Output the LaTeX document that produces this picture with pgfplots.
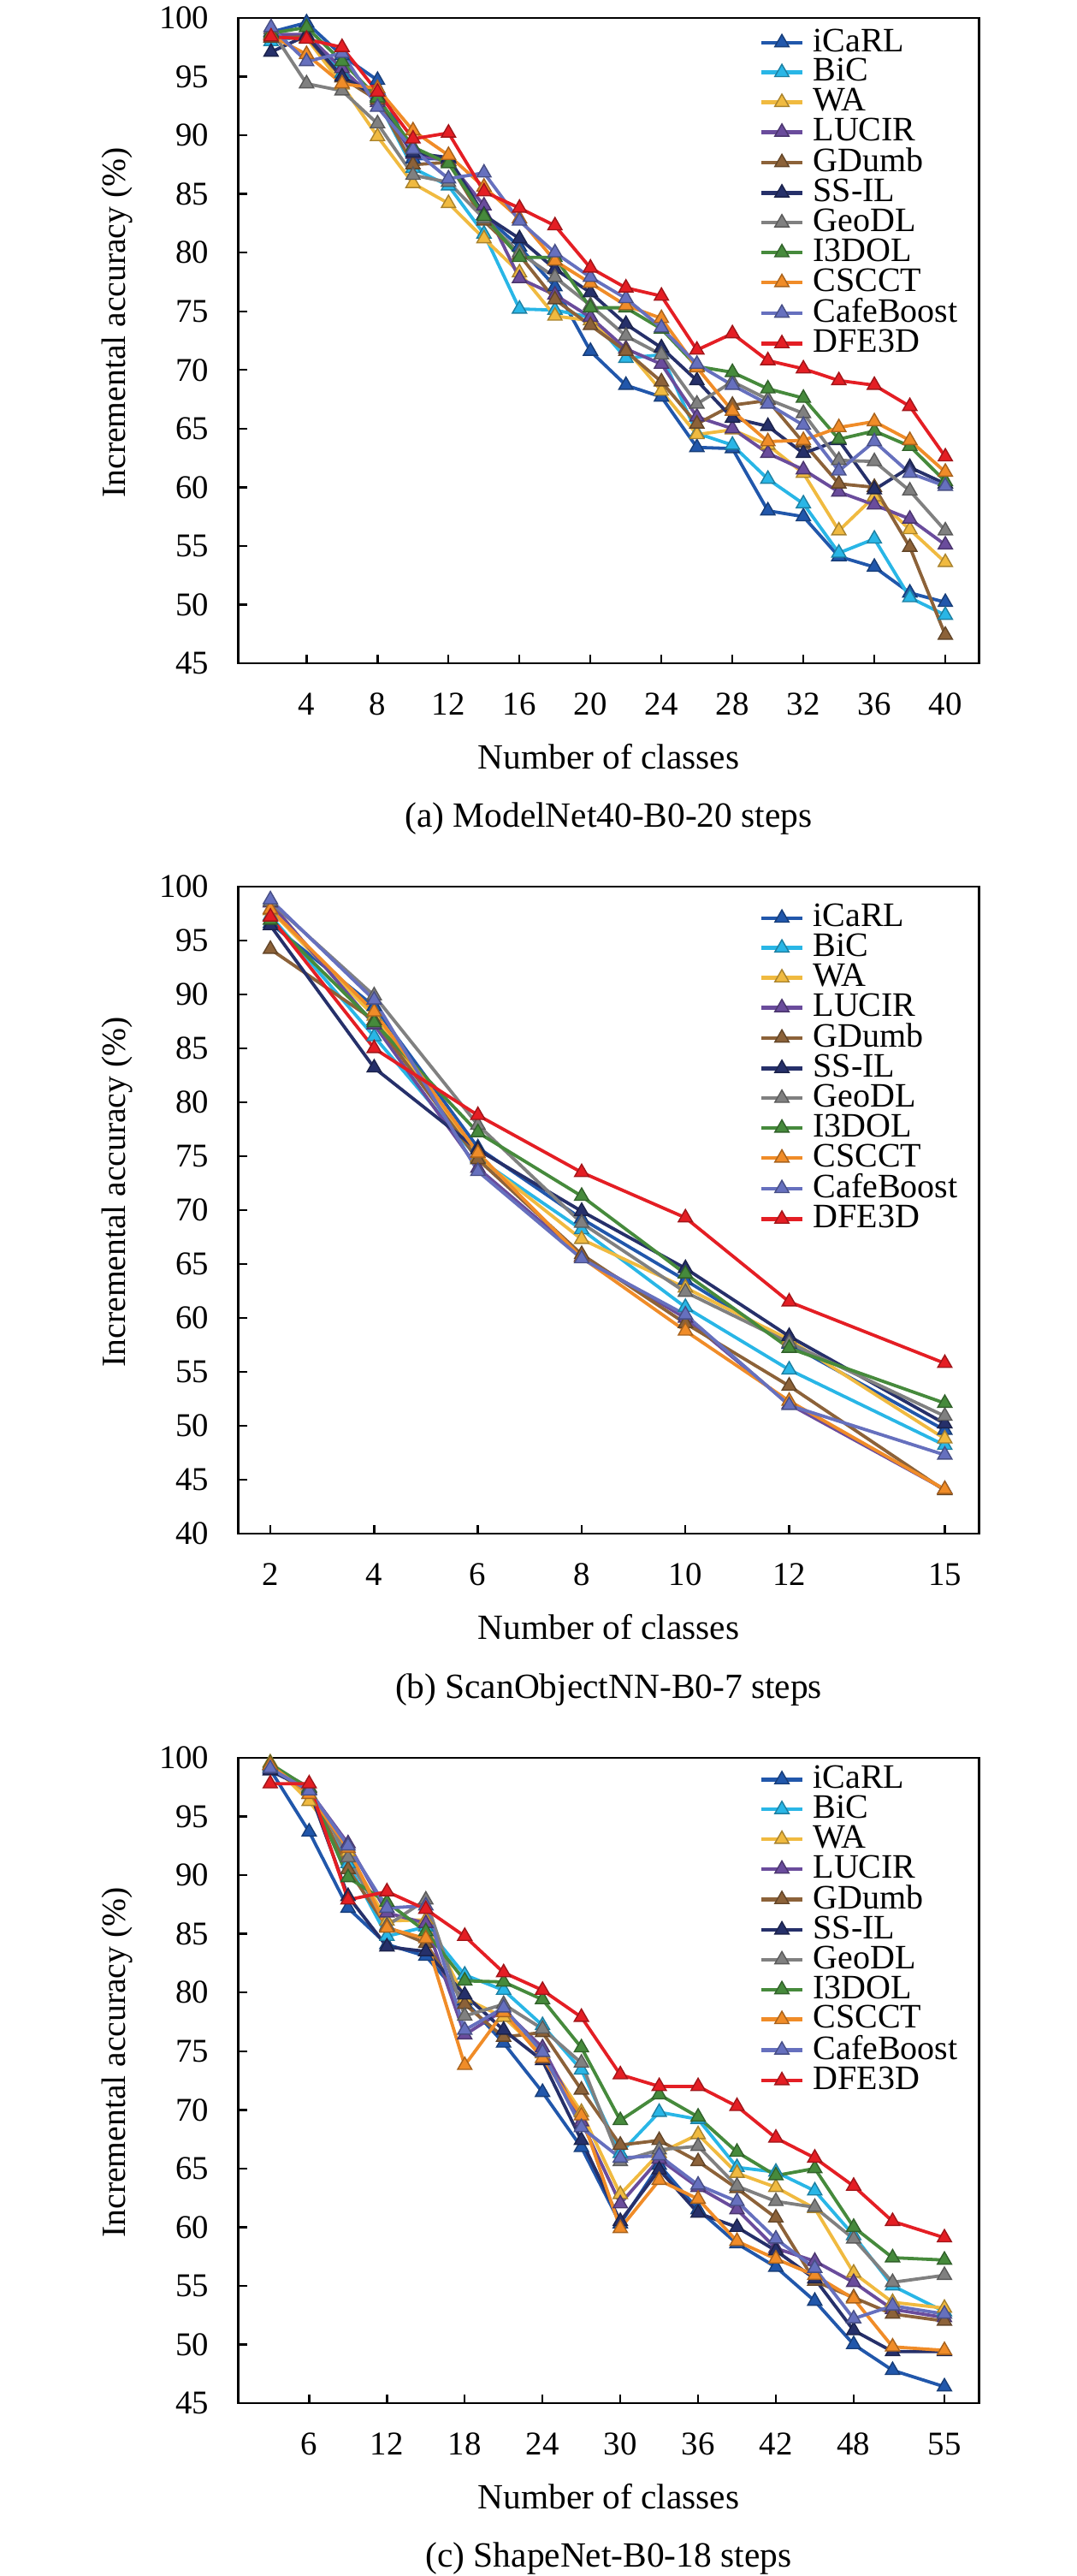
\documentclass[border=0pt]{standalone}
\usepackage{fontspec}
\setmainfont{Liberation Serif}
\usepackage{pgfplots}
\usepackage{pgfplotstable}
\pgfplotsset{compat=1.18}

\definecolor{cICaRL}{RGB}{33,87,171}
\definecolor{cBiC}{RGB}{41,182,230}
\definecolor{cWA}{RGB}{240,186,64}
\definecolor{cLUCIR}{RGB}{106,76,156}
\definecolor{cGDumb}{RGB}{140,98,57}
\definecolor{cSSIL}{RGB}{38,48,106}
\definecolor{cGeoDL}{RGB}{128,128,128}
\definecolor{cIDOL}{RGB}{70,138,60}
\definecolor{cCSCCT}{RGB}{240,140,40}
\definecolor{cCafe}{RGB}{102,112,190}
\definecolor{cDFE}{RGB}{228,30,36}

\pgfplotstableread{
x iCaRL BiC WA LUCIR GDumb SSIL GeoDL IDOL CSCCT CafeBoost DFE
2 98.8 98.0 98.5 98.6 98.3 97.1 99.0 98.7 98.5 99.2 98.4
4 99.6 98.5 98.3 98.6 98.4 98.5 94.4 99.2 96.9 96.3 98.2
6 96.8 95.3 94.3 95.7 94.9 95.0 93.8 96.3 94.4 97.0 97.5
8 94.7 93.0 89.9 92.8 93.0 93.3 91.0 93.2 94.0 92.4 93.7
10 88.0 87.2 85.9 88.4 87.5 88.5 86.6 89.0 90.4 88.8 89.7
12 88.0 85.7 84.2 87.8 87.7 88.1 86.0 87.6 88.3 86.3 90.2
14 83.2 81.6 81.2 84.0 82.7 83.2 82.9 83.1 85.6 86.8 85.2
16 80.5 75.2 78.3 77.8 79.8 81.2 80.0 79.6 82.9 82.7 83.8
18 77.1 75.1 74.6 76.4 76.0 78.6 77.9 79.6 79.3 80.0 82.3
20 71.6 74.5 74.2 74.5 73.8 76.6 75.5 75.3 77.4 77.9 78.7
22 68.7 71.0 71.8 71.8 71.6 73.9 72.9 75.3 75.5 76.1 77.0
24 67.7 71.3 68.2 70.5 69.0 71.9 71.3 73.5 74.4 73.6 76.3
26 63.4 64.6 64.5 66.0 65.4 69.1 67.1 70.3 70.2 70.5 71.7
28 63.3 63.6 64.9 65.0 67.0 65.9 69.0 69.8 66.5 68.7 73.1
30 58.0 60.7 63.6 62.9 67.4 65.2 67.5 68.4 63.9 67.1 70.8
32 57.5 58.6 61.2 61.5 63.8 62.9 66.3 67.6 64.0 65.3 70.1
34 54.1 54.4 56.3 59.6 60.3 64.0 62.3 64.1 65.1 61.4 69.1
36 53.2 55.6 59.2 58.5 60.0 59.8 62.2 64.8 65.6 63.9 68.7
38 51.0 50.6 56.4 57.3 54.9 61.7 59.7 63.5 64.0 61.2 66.9
40 50.2 49.1 53.6 55.1 47.4 60.3 56.3 60.5 61.3 60.1 62.6
}\tabA

\pgfplotstableread{
x iCaRL BiC WA LUCIR GDumb SSIL GeoDL IDOL CSCCT CafeBoost DFE
2 96.6 97.3 97.8 98.5 94.2 96.4 98.6 96.9 97.9 98.8 97.2
4 88.9 86.1 88.0 87.2 87.6 83.2 89.9 87.4 88.4 89.5 85.0
6 75.8 74.8 74.9 73.9 74.7 75.6 77.9 77.2 75.3 73.6 78.8
8 69.2 68.2 67.3 65.7 65.9 69.9 68.8 71.3 65.6 65.5 73.5
10 63.5 61.0 62.8 60.0 59.5 64.6 62.4 64.1 58.8 60.3 69.3
12 57.6 55.2 58.0 52.0 53.7 58.3 57.7 57.2 52.3 51.9 61.5
15 49.6 48.2 48.8 44.1 44.0 50.2 50.9 52.1 44.1 47.3 55.8
}\tabB

\pgfplotstableread{
x iCaRL BiC WA LUCIR GDumb SSIL GeoDL IDOL CSCCT CafeBoost DFE
3 99.0 99.2 99.6 99.4 99.3 98.9 99.3 99.5 99.4 99.1 97.8
6 93.7 96.9 96.3 97.2 97.4 97.3 97.5 97.4 96.9 97.2 97.8
9 87.2 91.0 92.0 92.7 90.5 88.2 91.5 89.8 92.3 92.5 87.9
12 84.1 84.8 86.1 86.8 85.6 83.9 85.7 87.7 85.5 87.2 88.6
15 83.1 85.6 86.2 85.9 84.2 83.5 87.9 85.2 84.6 87.4 87.1
18 79.3 81.5 79.5 76.4 79.0 79.8 78.0 81.0 73.8 76.8 84.8
21 75.7 80.2 77.9 78.5 76.2 76.8 79.0 80.9 78.3 78.7 81.7
24 71.5 77.2 74.8 75.3 76.6 74.2 76.9 79.4 74.4 74.9 80.2
27 66.8 73.4 69.8 69.0 71.7 67.4 74.0 75.3 69.5 68.5 77.9
30 60.3 66.3 62.8 62.0 67.0 60.5 65.6 69.1 59.9 65.9 73.0
33 65.3 69.8 66.3 65.8 67.4 64.9 66.6 71.3 64.0 66.1 72.0
36 61.5 69.2 67.9 63.4 65.6 61.2 66.9 69.4 62.4 63.6 72.0
39 58.6 65.1 64.6 61.5 63.3 60.0 63.5 66.4 58.8 62.2 70.3
42 56.6 64.7 63.4 58.2 60.8 58.0 62.2 64.4 57.3 59.0 67.6
45 53.7 63.1 61.6 57.1 55.4 55.6 61.7 65.0 55.9 56.5 65.9
48 50.0 59.3 56.1 55.3 54.0 51.2 59.0 60.0 53.9 52.2 63.5
51 47.8 55.0 53.6 53.0 52.6 49.4 55.3 57.4 49.8 53.3 60.5
55 46.4 52.8 53.1 52.3 52.0 49.4 55.9 57.2 49.5 52.6 59.1
}\tabC

\pgfplotsset{
  ser/.style={line width=0.95pt, color=#1, mark=triangle*, mark size=2.4pt,
    mark options={solid, fill=#1, draw=#1!70!black, line width=0.35pt}},
  panel/.style={
    scale only axis, width=216.5pt,
    clip=false,
    axis line style={line width=0.6pt, black},
    every tick/.style={line width=0.6pt, black},
    tick align=inside, xtick pos=bottom, ytick pos=left,
    major tick length=2.5pt,
    /pgf/number format/assume math mode=true,
    ticklabel style={font=\fontsize{9.7}{12}\selectfont},
    yticklabel style={xshift=-5pt},
    xticklabel style={yshift=-5.2pt},
    xlabel={Number of classes},
    ylabel={Incremental accuracy (\%)},
    xlabel style={font=\fontsize{10.35}{12}\selectfont, at={(axis description cs:0.5,-0.1446)}, anchor=center},
    ylabel style={font=\fontsize{9.9}{12}\selectfont, at={(axis description cs:-0.163,0.528)}, anchor=center},
    legend cell align=left,
    legend image code/.code={\draw[mark repeat=2,mark phase=2,#1,line width=1.1pt] plot coordinates {(0pt,0pt) (6pt,0pt) (12pt,0pt)};},
    legend style={draw=none, fill=none, inner sep=0pt, anchor=north west,
      font=\fontsize{10}{10}\selectfont, row sep=0.6pt, column sep=2.6pt,
      nodes={inner sep=0pt}},
  },
}

\newcommand\plotall[1]{%
  \addplot[ser=cICaRL] table[x=x,y=iCaRL]{#1};
  \addplot[ser=cBiC] table[x=x,y=BiC]{#1};
  \addplot[ser=cWA] table[x=x,y=WA]{#1};
  \addplot[ser=cLUCIR] table[x=x,y=LUCIR]{#1};
  \addplot[ser=cGDumb] table[x=x,y=GDumb]{#1};
  \addplot[ser=cSSIL] table[x=x,y=SSIL]{#1};
  \addplot[ser=cGeoDL] table[x=x,y=GeoDL]{#1};
  \addplot[ser=cIDOL] table[x=x,y=IDOL]{#1};
  \addplot[ser=cCSCCT] table[x=x,y=CSCCT]{#1};
  \addplot[ser=cCafe] table[x=x,y=CafeBoost]{#1};
  \addplot[ser=cDFE] table[x=x,y=DFE]{#1};
  \legend{iCaRL,BiC,WA,LUCIR,GDumb,SS-IL,GeoDL,I3DOL,CSCCT,CafeBoost,DFE3D}
}

\begin{document}
\begin{tikzpicture}
\useasboundingbox (0pt,0pt) rectangle (314.75pt,-752.5pt);

% (a)
\begin{axis}[panel, at={(69.625pt,-193.75pt)}, anchor=south west, height=188.5pt,
  xmin=0.15, xmax=41.9, ymin=45, ymax=100,
  xtick={4,8,...,40}, ytick={45,50,...,100},
  legend style={at={(axis description cs:0.7027,0.9845)}}]
\plotall{\tabA}
\node[font=\fontsize{10.35}{12}\selectfont] at (axis description cs:0.5,-0.2411) {(a) ModelNet40-B0-20 steps};
\end{axis}

% (b)
\begin{axis}[panel, at={(69.625pt,-448pt)}, anchor=south west, height=189pt,
  xmin=1.38, xmax=15.66, ymin=40, ymax=100,
  xtick={2,4,6,8,10,12,15}, ytick={40,45,...,100},
  legend style={at={(axis description cs:0.7027,0.9740)}}]
\plotall{\tabB}
\node[font=\fontsize{10.35}{12}\selectfont] at (axis description cs:0.5,-0.2411) {(b) ScanObjectNN-B0-7 steps};
\end{axis}

% (c)
\begin{axis}[panel, at={(69.625pt,-702pt)}, anchor=south west, height=188.5pt,
  xmin=0.53, xmax=57.67, ymin=45, ymax=100,
  xtick={6,12,18,24,30,36,42,48,55}, ytick={45,50,...,100},
  legend style={at={(axis description cs:0.7027,0.9890)}}]
\plotall{\tabC}
\node[font=\fontsize{10.35}{12}\selectfont] at (axis description cs:0.5,-0.2411) {(c) ShapeNet-B0-18 steps};
\end{axis}
\end{tikzpicture}
\end{document}
